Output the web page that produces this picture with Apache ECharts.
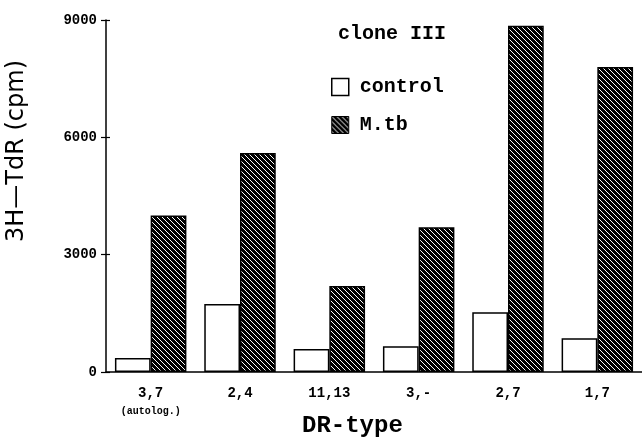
<!DOCTYPE html>
<html><head><meta charset="utf-8">
<script src="https://cdn.jsdelivr.net/npm/echarts@6/dist/echarts.min.js"></script>
<style>html,body{margin:0;padding:0;background:#fff}#c{width:642px;height:437px}</style>
</head><body><div id="c"></div>
<script>
const categories = ['3,7', '2,4', '11,13', '3,-', '2,7', '1,7'];
const subLabels = ['(autolog.)', '', '', '', '', ''];
const controlValues = [360, 1740, 590, 660, 1530, 860];
const mtbValues = [4000, 5600, 2200, 3700, 8850, 7800];
const yTicks = [0, 3000, 6000, 9000];

function hatch() {
  const s = 5;
  const cv = document.createElement('canvas');
  cv.width = s; cv.height = s;
  const ctx = cv.getContext('2d');
  const img = ctx.createImageData(s, s);
  for (let y = 0; y < s; y++) for (let x = 0; x < s; x++) {
    const i = (y * s + x) * 4;
    const w = ((x - y) % s + s) % s === 0;
    const v = w ? 255 : 0;
    img.data[i] = v; img.data[i+1] = v; img.data[i+2] = v; img.data[i+3] = 255;
  }
  ctx.putImageData(img, 0, 0);
  return cv;
}
const pat = { image: hatch(), repeat: 'repeat' };
const mono = '"Liberation Mono", "DejaVu Sans Mono", monospace';

const chart = echarts.init(document.getElementById('c'), null, { renderer: 'canvas' });
const yMin = yTicks[0], yMax = yTicks[yTicks.length - 1], yStep = yTicks[1] - yTicks[0];
chart.setOption({
  animation: false,
  backgroundColor: '#fff',
  grid: { left: 106, right: 0, top: 20, bottom: 65 },
  title: {
    text: 'clone III', left: 333, top: 19,
    textStyle: { fontFamily: mono, fontWeight: 'bold', fontSize: 20, color: '#000' }
  },
  legend: {
    orient: 'vertical', left: 326, top: 72, itemWidth: 17, itemHeight: 17, itemGap: 18,
    textStyle: { fontFamily: mono, fontWeight: 'bold', fontSize: 20, color: '#000', padding: [0, 0, 0, 6] },
    data: [
      { name: 'control', icon: 'rect', itemStyle: { color: '#fff', borderColor: '#000', borderWidth: 1.5 } },
      { name: 'M.tb', icon: 'rect', itemStyle: { color: pat, borderColor: '#000', borderWidth: 1 } }
    ]
  },
  xAxis: [{
    type: 'category', data: categories,
    axisLine: { lineStyle: { color: '#000', width: 1.5 } },
    axisTick: { alignWithLabel: false, length: 5, lineStyle: { color: '#000', width: 1.2 } },
    axisLabel: {
      interval: 0, margin: 11, color: '#000',
      formatter: (v, i) => subLabels[i] ? v + '\n{s|' + subLabels[i] + '}' : v,
      fontFamily: mono, fontWeight: 'bold', fontSize: 14, lineHeight: 20,
      rich: { s: { fontFamily: mono, fontSize: 10, fontWeight: 'bold', color: '#000', lineHeight: 16 } }
    }
  }, {
    type: 'category', data: categories, position: 'bottom',
    axisLine: { show: false }, axisLabel: { show: false },
    axisTick: { inside: true, length: 4, lineStyle: { color: '#000', width: 1.2 } }
  }],
  yAxis: [{
    type: 'value', min: yMin, max: yMax, interval: yStep,
    splitLine: { show: false },
    axisLine: { show: true, lineStyle: { color: '#000', width: 1.5 } },
    axisTick: { show: true, length: 5, lineStyle: { color: '#000', width: 1.2 } },
    axisLabel: { margin: 9, color: '#000', fontFamily: mono, fontWeight: 'bold', fontSize: 14,
      formatter: v => String(v) }
  }, {
    type: 'value', min: yMin, max: yMax, interval: yStep, position: 'left',
    splitLine: { show: false }, axisLine: { show: false }, axisLabel: { show: false },
    axisTick: { show: true, inside: true, length: 4, lineStyle: { color: '#000', width: 1.2 } }
  }],
  graphic: [{
    type: 'text', left: 5, top: 60, rotation: Math.PI / 2,
    style: { text: '3H\u2014TdR (cpm)', font: '24px "DejaVu Sans", sans-serif', fill: '#000' }
  }, {
    type: 'text', left: 302, top: 414,
    style: { text: 'DR-type', font: 'bold 24px "Liberation Mono", monospace', fill: '#000' }
  }],
  series: [{
    name: 'control', type: 'bar', data: controlValues, barGap: '0%', barCategoryGap: '20%',
    itemStyle: { color: '#fff', borderColor: '#000', borderWidth: 1.5 }
  }, {
    name: 'M.tb', type: 'bar', data: mtbValues,
    itemStyle: { color: pat, borderColor: '#000', borderWidth: 1.5 }
  }]
});
</script></body></html>
